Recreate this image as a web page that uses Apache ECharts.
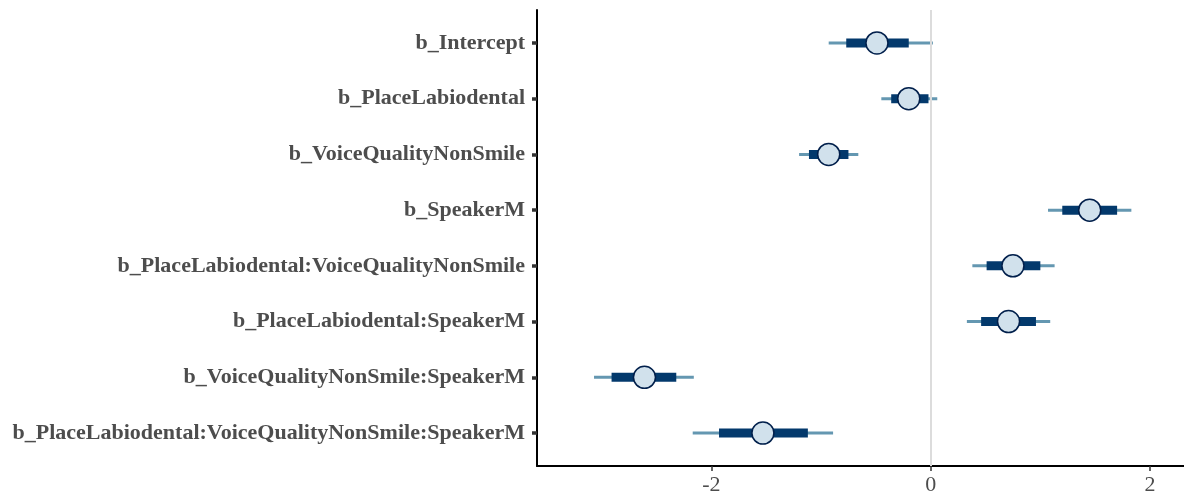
<!DOCTYPE html>
<html>
<head>
<meta charset="utf-8">
<script src="https://cdn.jsdelivr.net/npm/echarts@6/dist/echarts.min.js"></script>
<style>
html,body{margin:0;padding:0;background:#fff;}
#chart{width:1184px;height:497px;}
</style>
</head>
<body>
<div id="chart"></div>
<script>
// Parameter names (top to bottom)
const params = [
  "b_Intercept",
  "b_PlaceLabiodental",
  "b_VoiceQualityNonSmile",
  "b_SpeakerM",
  "b_PlaceLabiodental:VoiceQualityNonSmile",
  "b_PlaceLabiodental:SpeakerM",
  "b_VoiceQualityNonSmile:SpeakerM",
  "b_PlaceLabiodental:VoiceQualityNonSmile:SpeakerM"
];
// Outer interval low / high
const outerLow  = [-0.93, -0.45, -1.20, 1.07, 0.38, 0.33, -3.07, -2.17];
const outerHigh = [ 0.02,  0.06, -0.66, 1.83, 1.13, 1.09, -2.16, -0.89];
// Inner interval low / high
const innerLow  = [-0.77, -0.36, -1.11, 1.20, 0.51, 0.46, -2.91, -1.93];
const innerHigh = [-0.20, -0.02, -0.75, 1.70, 1.00, 0.96, -2.32, -1.12];
// Point estimates (median)
const medians   = [-0.49, -0.20, -0.93, 1.45, 0.75, 0.71, -2.61, -1.53];
// Tick labels
const xTicks = [-2, 0, 2];
const rowTicks = params.map((_, i) => i + 1);

const rows = params.map((p, i) => [i + 1, outerLow[i], innerLow[i], medians[i], innerHigh[i], outerHigh[i]]);

const chart = echarts.init(document.getElementById('chart'), null, {renderer: 'canvas'});

const labelFont = '"Liberation Serif", "DejaVu Serif", serif';

chart.setOption({
  animation: false,
  backgroundColor: '#ffffff',
  grid: {left: 537, right: 0, top: 10, bottom: 31, containLabel: false},
  xAxis: {
    type: 'value',
    min: -3.59,
    max: 2.31,
    splitLine: {show: false},
    axisLine: {show: true, onZero: false, lineStyle: {color: '#000000', width: 2}},
    axisTick: {show: true, customValues: xTicks, length: 5, lineStyle: {color: '#333333', width: 1.5}},
    axisLabel: {
      customValues: xTicks,
      margin: 8,
      color: '#4d4d4d',
      fontFamily: labelFont,
      fontSize: 22,
      formatter: v => String(v)
    }
  },
  yAxis: {
    type: 'value',
    inverse: true,
    min: 0.41,
    max: 8.59,
    splitLine: {show: false},
    axisLine: {show: true, onZero: false, lineStyle: {color: '#000000', width: 2}},
    axisTick: {show: true, customValues: rowTicks, length: 5, lineStyle: {color: '#333333', width: 3.5}},
    axisLabel: {
      customValues: rowTicks,
      margin: 12,
      color: '#4d4d4d',
      fontFamily: labelFont,
      fontWeight: 'bold',
      fontSize: 22,
      formatter: v => params[Math.round(v) - 1] || ''
    }
  },
  series: [
    {
      type: 'line',
      data: [],
      z: 1,
      silent: true,
      markLine: {
        silent: true,
        symbol: ['none', 'none'],
        label: {show: false},
        lineStyle: {color: '#dcdcdc', width: 2, type: 'solid'},
        data: [{xAxis: 0}]
      }
    },
    {
      type: 'custom',
      z: 3,
      data: rows,
      encode: {x: [1, 2, 3, 4, 5], y: 0},
      renderItem: function (ctx, api) {
        const r = api.value(0);
        const pLL = api.coord([api.value(1), r]);
        const pL = api.coord([api.value(2), r]);
        const pM = api.coord([api.value(3), r]);
        const pH = api.coord([api.value(4), r]);
        const pHH = api.coord([api.value(5), r]);
        const cy = pM[1];
        return {
          type: 'group',
          children: [
            {type: 'line', shape: {x1: pLL[0], y1: cy, x2: pHH[0], y2: cy},
             style: {stroke: '#6497b1', lineWidth: 3}},
            {type: 'rect', shape: {x: pL[0], y: cy - 4.5, width: pH[0] - pL[0], height: 9},
             style: {fill: '#03396c'}},
            {type: 'circle', shape: {cx: pM[0], cy: cy, r: 11},
             style: {fill: '#d1e1ec', stroke: '#011f4b', lineWidth: 1.5}}
          ]
        };
      }
    }
  ]
});
</script>
</body>
</html>
